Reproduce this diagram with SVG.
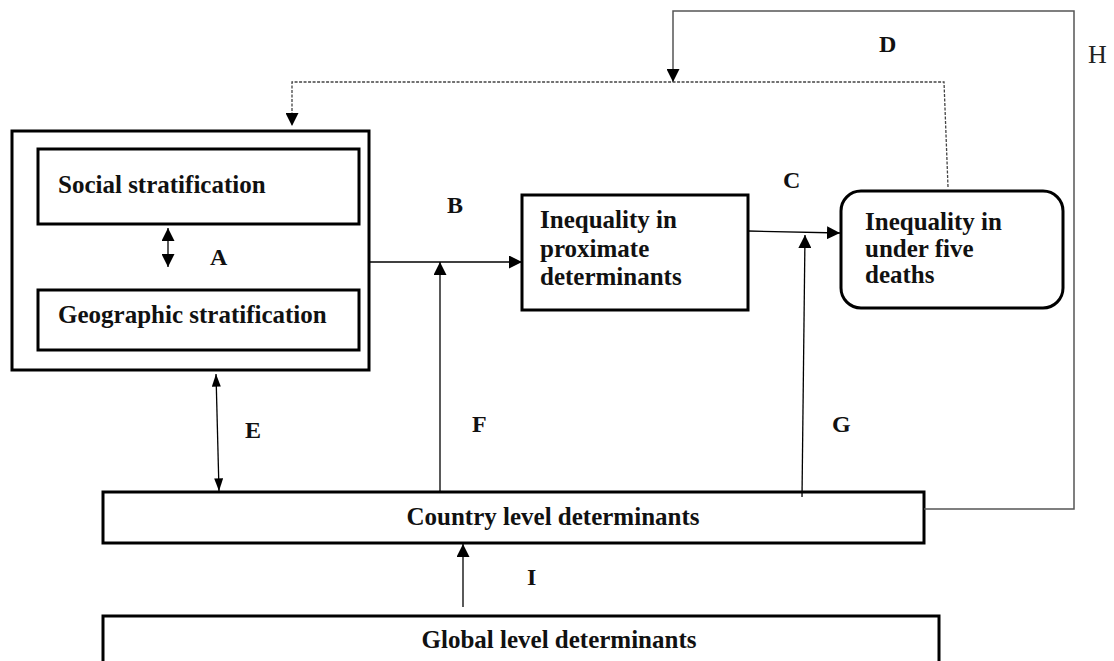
<svg xmlns="http://www.w3.org/2000/svg" width="1114" height="661" viewBox="0 0 1114 661">
<style>
  .box { fill: #fff; stroke: #000; stroke-width: 3; }
  .t { font-family: "Liberation Serif", "Times New Roman", serif; font-weight: bold; font-size: 25px; fill: #111; }
  .lbl { font-family: "Liberation Serif", "Times New Roman", serif; font-weight: bold; font-size: 24px; fill: #111; }
  .lblr { font-family: "Liberation Serif", "Times New Roman", serif; font-weight: normal; font-size: 26px; fill: #222; }
  .c { fill: none; stroke: #000; stroke-width: 1.3; }
  .cg { fill: none; stroke: #555; stroke-width: 1.5; }
  .cd { fill: none; stroke: #444; stroke-width: 1.3; stroke-dasharray: 3 1.5; }
</style>
<defs>
  <marker id="ah" viewBox="0 0 14 14" refX="14" refY="7" markerWidth="13" markerHeight="13" markerUnits="userSpaceOnUse" orient="auto-start-reverse">
    <path d="M0,0 L14,7 L0,14 z" fill="#000"/>
  </marker>
  <marker id="ahn" viewBox="0 0 14 10" refX="14" refY="5" markerWidth="15" markerHeight="9" markerUnits="userSpaceOnUse" orient="auto-start-reverse">
    <path d="M0,0 L14,5 L0,10 z" fill="#000"/>
  </marker>
</defs>
<rect width="1114" height="661" fill="#fff"/>

<g id="outer">
  <rect class="box" x="12" y="131" width="357" height="239"/>
</g>
<g id="social">
  <rect class="box" x="38" y="149" width="321" height="75"/>
  <text class="t" x="58" y="193">Social stratification</text>
</g>
<g id="geographic">
  <rect class="box" x="38" y="290" width="321" height="60"/>
  <text class="t" x="58" y="323">Geographic stratification</text>
</g>
<g id="proximate">
  <rect class="box" x="522" y="195" width="226" height="115"/>
  <text class="t" x="540" y="228">Inequality in</text>
  <text class="t" x="540" y="257">proximate</text>
  <text class="t" x="540" y="285">determinants</text>
</g>
<g id="underfive">
  <rect class="box" x="841" y="191" width="222" height="117" rx="20" ry="20"/>
  <text class="t" x="865" y="230">Inequality in</text>
  <text class="t" x="865" y="257">under five</text>
  <text class="t" x="865" y="283">deaths</text>
</g>
<g id="country">
  <rect class="box" x="103" y="492" width="821" height="51"/>
  <text class="t" x="553" y="525" text-anchor="middle">Country level determinants</text>
</g>
<g id="global">
  <rect class="box" x="103" y="616" width="836" height="60"/>
  <text class="t" x="559" y="648" text-anchor="middle">Global level determinants</text>
</g>

<g id="connectors">
  <line class="c" x1="369" y1="262" x2="522" y2="262" marker-end="url(#ah)"/>
  <line class="c" x1="440" y1="491" x2="440" y2="262" marker-end="url(#ah)"/>
  <line class="c" x1="748" y1="231" x2="840" y2="233" stroke="#444" marker-end="url(#ah)"/>
  <line class="c" x1="802" y1="497" x2="805" y2="235" stroke="#555" marker-end="url(#ah)"/>
  <line class="c" x1="168" y1="228" x2="168" y2="267" marker-start="url(#ah)" marker-end="url(#ah)"/>
  <line class="c" x1="216" y1="374" x2="219" y2="491" marker-start="url(#ahn)" marker-end="url(#ahn)"/>
  <line class="c" x1="463" y1="607" x2="463" y2="544" marker-end="url(#ah)"/>
  <polyline class="cg" points="924,509 1074,509 1074,11 673,11 673,82" marker-end="url(#ah)"/>
  <polyline class="cd" points="948,187 944,82 292,82 292,126" marker-end="url(#ah)"/>
</g>

<g id="labels">
  <text class="lbl" x="210" y="265">A</text>
  <text class="lbl" x="447" y="213">B</text>
  <text class="lbl" x="783" y="188">C</text>
  <text class="lbl" x="879" y="52">D</text>
  <text class="lbl" x="245" y="438">E</text>
  <text class="lbl" x="472" y="432">F</text>
  <text class="lbl" x="832" y="432">G</text>
  <text class="lbl" x="527" y="585">I</text>
  <text class="lblr" x="1088" y="63">H</text>
</g>
</svg>
